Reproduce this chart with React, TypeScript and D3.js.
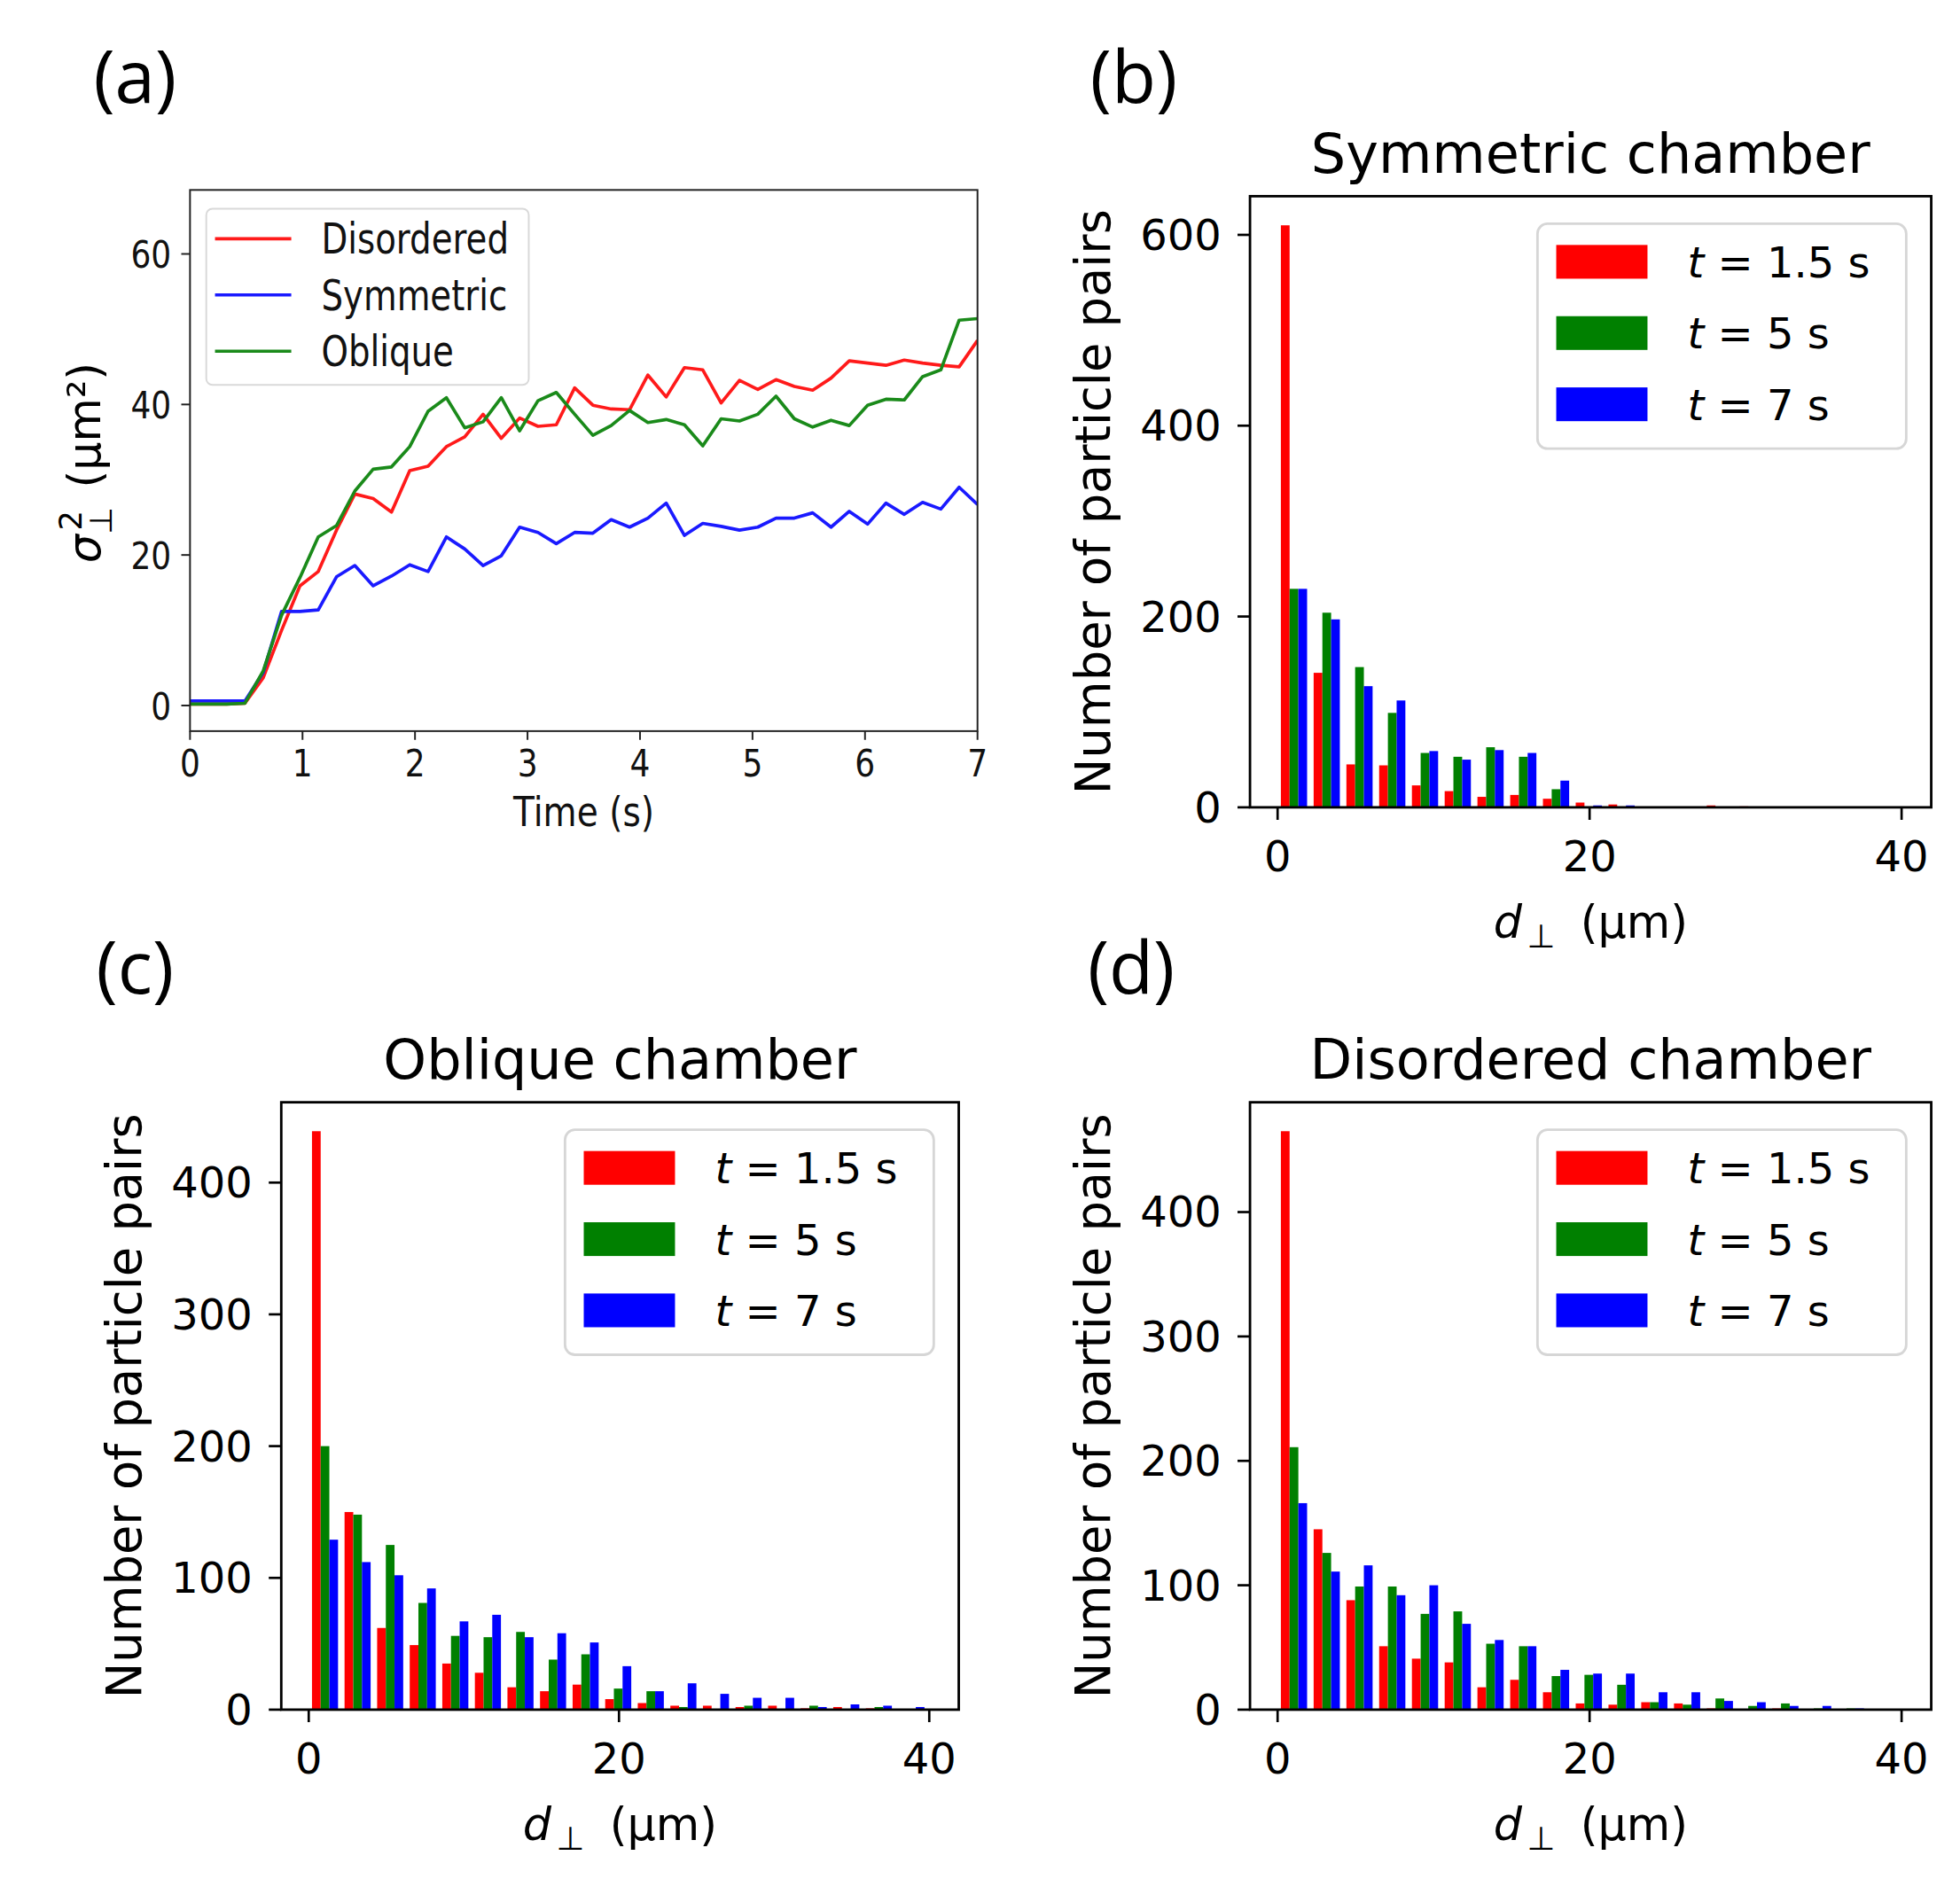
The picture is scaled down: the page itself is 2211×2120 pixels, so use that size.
import React from 'react';
import * as d3 from 'd3';

// ---- panel (a): variance of perpendicular displacement vs time ----
const TIME = [
  0, 0.163, 0.326, 0.488, 0.651, 0.814, 0.977, 1.14, 1.302, 1.465, 1.628, 1.791,
  1.953, 2.116, 2.279, 2.442, 2.605, 2.767, 2.93, 3.093, 3.256, 3.419, 3.581, 3.744,
  3.907, 4.07, 4.233, 4.395, 4.558, 4.721, 4.884, 5.047, 5.209, 5.372, 5.535, 5.698,
  5.86, 6.023, 6.186, 6.349, 6.512, 6.674, 6.837, 7.0,
];
const DISORDERED = [
  0.2, 0.2, 0.2, 0.3, 3.7, 10.0, 15.9, 17.8, 23.3, 28.1, 27.5, 25.7, 31.2, 31.8, 34.4,
  35.7, 38.7, 35.5, 38.2, 37.1, 37.3, 42.2, 39.9, 39.4, 39.3, 43.9, 41.0, 44.9, 44.6,
  40.2, 43.2, 42.0, 43.3, 42.4, 41.9, 43.5, 45.8, 45.5, 45.2, 45.9, 45.5, 45.2, 45.0, 48.5,
];
const SYMMETRIC = [
  0.6, 0.6, 0.6, 0.6, 4.4, 12.5, 12.5, 12.7, 17.1, 18.6, 15.9, 17.2, 18.7, 17.8, 22.4,
  20.8, 18.6, 19.9, 23.7, 23.0, 21.5, 23.0, 22.9, 24.7, 23.7, 24.9, 26.9, 22.6, 24.2,
  23.8, 23.3, 23.7, 24.9, 24.9, 25.6, 23.7, 25.8, 24.1, 26.9, 25.4, 27.0, 26.1, 29.0, 26.7,
];
const OBLIQUE = [
  0.2, 0.2, 0.2, 0.3, 4.6, 12.0, 17.0, 22.4, 23.9, 28.5, 31.4, 31.7, 34.4, 39.1, 40.9,
  36.9, 37.7, 40.9, 36.5, 40.5, 41.6, 38.7, 35.9, 37.2, 39.2, 37.6, 38.0, 37.3, 34.5,
  38.1, 37.8, 38.7, 41.1, 38.1, 37.0, 37.9, 37.2, 39.9, 40.7, 40.6, 43.7, 44.6, 51.2, 51.4,
];
const LINE_NAMES = ['Disordered', 'Symmetric', 'Oblique'];
const LINE_COLORS = ['#ff1a1a', '#1a1aff', '#1a8a1a'];
const A_XTICKS = [0, 1, 2, 3, 4, 5, 6, 7];
const A_YTICKS = [0, 20, 40, 60];

// ---- histograms: number of particle pairs per d_perp bin ----
const BIN_WIDTH = 2.1;
const SYM_T15 = [610, 141, 45, 44, 23, 17, 11, 13, 9, 5, 3, 0, 0, 2, 1, 0, 0, 0, 0];
const SYM_T5 = [229, 204, 147, 99, 57, 53, 63, 53, 19, 0, 0, 0, 0, 0, 0, 0, 0, 0, 0];
const SYM_T7 = [229, 197, 127, 112, 59, 50, 60, 57, 28, 2, 2, 0, 0, 0, 0, 0, 0, 0, 0];
const OBL_T15 = [439, 150, 62, 49, 35, 28, 17, 14, 19, 8, 5, 3, 3, 2, 3, 1, 2, 1, 0];
const OBL_T5 = [200, 148, 125, 81, 56, 55, 59, 38, 42, 16, 14, 2, 0, 3, 0, 3, 0, 2, 0];
const OBL_T7 = [129, 112, 102, 92, 67, 72, 55, 58, 51, 33, 14, 20, 12, 9, 9, 2, 4, 3, 2];
const DIS_T15 = [465, 145, 88, 51, 41, 38, 18, 24, 14, 5, 4, 6, 5, 1, 0, 1, 0, 0, 0];
const DIS_T5 = [211, 126, 99, 99, 77, 79, 53, 51, 27, 28, 20, 6, 4, 9, 3, 5, 1, 1, 0];
const DIS_T7 = [166, 111, 116, 92, 100, 69, 56, 51, 32, 29, 29, 14, 14, 7, 6, 3, 3, 1, 0];
const HIST_TIMES = ['1.5', '5', '7'];
const HIST_COLORS = ['#ff0000', '#008000', '#0000ff'];
const HIST_XTICKS = [0, 20, 40];

const W = 1568;
const H = 1503.5;

type Box = { left: number; right: number; top: number; bottom: number };

const LinePanel = () => {
  const box: Box = { left: 152, right: 782, top: 152, bottom: 585 };
  const x = d3.scaleLinear().domain([0, 7]).range([box.left, box.right]);
  const y = d3.scaleLinear().domain([-3.4, 68.5]).range([box.bottom, box.top]);
  const series = [DISORDERED, SYMMETRIC, OBLIQUE];
  const line = d3
    .line<number>()
    .x((_, i) => x(TIME[i]))
    .y((d) => y(d));
  const sx = 0.85; // squeezed text, as in the original panel

  return (
    <g>
      <defs>
        <clipPath id="clipA">
          <rect x={box.left} y={box.top} width={box.right - box.left} height={box.bottom - box.top} />
        </clipPath>
      </defs>
      <g clipPath="url(#clipA)">
        {series.map((s, i) => (
          <path key={i} d={line(s) || ''} fill="none" stroke={LINE_COLORS[i]} strokeWidth={2.6} strokeLinejoin="round" />
        ))}
      </g>
      <rect x={box.left} y={box.top} width={box.right - box.left} height={box.bottom - box.top} fill="none" stroke="#222" strokeWidth={1.4} />
      {A_XTICKS.map((t) => (
        <g key={t}>
          <line x1={x(t)} x2={x(t)} y1={box.bottom} y2={box.bottom + 7} stroke="#222" strokeWidth={1.4} />
          <text transform={`translate(${x(t)},${box.bottom + 36}) scale(${sx},1)`} textAnchor="middle" fontSize={30} fill="#111">
            {t}
          </text>
        </g>
      ))}
      {A_YTICKS.map((t) => (
        <g key={t}>
          <line x1={box.left - 7} x2={box.left} y1={y(t)} y2={y(t)} stroke="#222" strokeWidth={1.4} />
          <text transform={`translate(${box.left - 15},${y(t) + 11}) scale(${sx},1)`} textAnchor="end" fontSize={30} fill="#111">
            {t}
          </text>
        </g>
      ))}
      <text transform={`translate(${(box.left + box.right) / 2},${box.bottom + 76}) scale(0.84,1)`} textAnchor="middle" fontSize={33} fill="#111">
        Time (s)
      </text>
      {/* y label: sigma_perp^2 (um^2) */}
      <g transform={`translate(80,${(box.top + box.bottom) / 2}) rotate(-90)`} fontSize={36} fill="#000">
        <text x={-82} y={0} fontStyle="italic">σ</text>
        <text x={-59} y={9} fontSize={25}>⊥</text>
        <text x={-56} y={-15} fontSize={25}>2</text>
        <text x={-22} y={0}>(μm²)</text>
      </g>
      {/* legend */}
      <rect x={165} y={167} width={258} height={141} rx={5} fill="#fff" stroke="#d9d9d9" strokeWidth={1.4} />
      {LINE_NAMES.map((n, i) => (
        <g key={n}>
          <line x1={172} x2={233} y1={191 + i * 45} y2={191 + i * 45} stroke={LINE_COLORS[i]} strokeWidth={2.6} />
          <text transform={`translate(257,${191 + i * 45 + 12}) scale(0.82,1)`} fontSize={33.5} fill="#111">
            {n}
          </text>
        </g>
      ))}
    </g>
  );
};

interface HistProps {
  box: Box;
  title: string;
  series: number[][];
  yTicks: number[];
  ylabelX: number;
}

const HistPanel: React.FC<HistProps> = ({ box, title, series, yTicks, ylabelX }) => {
  const x = d3.scaleLinear().domain([-1.77, 41.9]).range([box.left, box.right]);
  const ymax = (d3.max(series.flat()) as number) * 1.05;
  const y = d3.scaleLinear().domain([0, ymax]).range([box.bottom, box.top]);
  const n = series.length;
  const barW = (BIN_WIDTH * 0.8) / n;
  const cx = (box.left + box.right) / 2;
  const cy = (box.top + box.bottom) / 2;
  const lg = { x: box.right - 20 - 295, y: box.top + 22 };

  return (
    <g>
      {series.map((s, j) =>
        s.map((v, k) => {
          const x0 = k * BIN_WIDTH + BIN_WIDTH * 0.1 + j * barW;
          if (v <= 0) return null;
          return (
            <rect key={`${j}-${k}`} x={x(x0)} y={y(v)} width={x(x0 + barW) - x(x0)} height={box.bottom - y(v)} fill={HIST_COLORS[j]} />
          );
        }),
      )}
      <rect x={box.left} y={box.top} width={box.right - box.left} height={box.bottom - box.top} fill="none" stroke="#000" strokeWidth={2} />
      {HIST_XTICKS.map((t) => (
        <g key={t}>
          <line x1={x(t)} x2={x(t)} y1={box.bottom} y2={box.bottom + 10} stroke="#000" strokeWidth={1.9} />
          <text x={x(t)} y={box.bottom + 51} textAnchor="middle" fontSize={34}>
            {t}
          </text>
        </g>
      ))}
      {yTicks.map((t) => (
        <g key={t}>
          <line x1={box.left - 10} x2={box.left} y1={y(t)} y2={y(t)} stroke="#000" strokeWidth={1.9} />
          <text x={box.left - 23} y={y(t) + 12} textAnchor="end" fontSize={34}>
            {t}
          </text>
        </g>
      ))}
      <text x={cx} y={box.top - 19} textAnchor="middle" fontSize={44}>
        {title}
      </text>
      <text transform={`translate(${ylabelX},${cy}) rotate(-90)`} textAnchor="middle" fontSize={38.5}>
        Number of particle pairs
      </text>
      <text x={cx} y={box.bottom + 104} textAnchor="middle" fontSize={36}>
        <tspan fontStyle="italic">d</tspan>
        <tspan fontSize={26} dy={8} dx={4}>⊥</tspan>
        <tspan dy={-8} dx={20}>(μm)</tspan>
      </text>
      {/* legend */}
      <rect x={lg.x} y={lg.y} width={295} height={180} rx={8} fill="#fff" stroke="#d6d6d6" strokeWidth={2} />
      {HIST_TIMES.map((t, j) => (
        <g key={t}>
          <rect x={lg.x + 15} y={lg.y + 17 + j * 57} width={73} height={27} fill={HIST_COLORS[j]} />
          <text x={lg.x + 120} y={lg.y + 31 + j * 57 + 12} fontSize={34}>
            <tspan fontStyle="italic">t</tspan>
            {` = ${t} s`}
          </text>
        </g>
      ))}
    </g>
  );
};

const App = () => {
  return (
    <svg
      width={2211}
      height={2120}
      viewBox={`0 0 ${W} ${H}`}
      style={{ position: 'absolute', left: 0, top: 0, background: '#fff' }}
      fontFamily="DejaVu Sans, sans-serif"
    >
      <rect x={0} y={0} width={W} height={H} fill="#fff" />
      <g fontFamily="Open Sans, Noto Sans, sans-serif" fontSize={58} fill="#000" textAnchor="middle">
        <text x={108} y={82}>(a)</text>
        <text x={907} y={82}>(b)</text>
        <text x={108} y={795}>(c)</text>
        <text x={905} y={795}>(d)</text>
      </g>
      <LinePanel />
      <HistPanel
        box={{ left: 1000, right: 1545, top: 157, bottom: 646 }}
        title="Symmetric chamber"
        series={[SYM_T15, SYM_T5, SYM_T7]}
        yTicks={[0, 200, 400, 600]}
        ylabelX={888}
      />
      <HistPanel
        box={{ left: 225, right: 767, top: 882, bottom: 1368 }}
        title="Oblique chamber"
        series={[OBL_T15, OBL_T5, OBL_T7]}
        yTicks={[0, 100, 200, 300, 400]}
        ylabelX={113}
      />
      <HistPanel
        box={{ left: 1000, right: 1545, top: 882, bottom: 1368 }}
        title="Disordered chamber"
        series={[DIS_T15, DIS_T5, DIS_T7]}
        yTicks={[0, 100, 200, 300, 400]}
        ylabelX={888}
      />
    </svg>
  );
};

export default App;
